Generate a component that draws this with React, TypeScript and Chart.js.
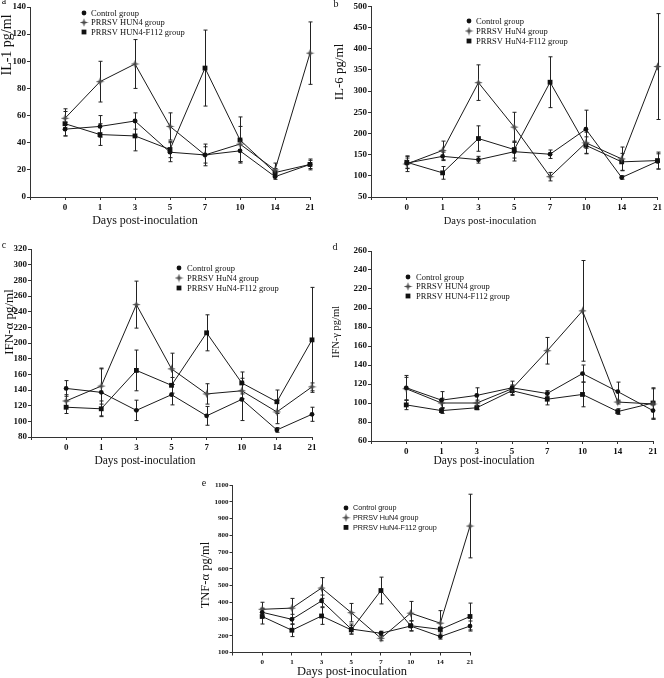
import React, { useEffect, useRef } from 'react';
import { Chart, registerables } from 'chart.js';

Chart.register(...registerables);

// ---------- data ----------
const DAYS = ['0', '1', '3', '5', '7', '10', '14', '21'];

// a: IL-1
const IL1_CONTROL = [50, 52, 56, 33, 31, 34, 15, 24];
const IL1_CONTROL_SD = [5, 8, 6, 7, 8, 8, 2, 3];
const IL1_HUN4 = [58, 85, 98, 52, 31, 39, 20, 106];
const IL1_HUN4_SD = [7, 15, 18, 10, 6, 13, 5, 23];
const IL1_F112 = [54, 46, 45, 35, 95, 42, 18, 24];
const IL1_F112_SD = [9, 8, 11, 6, 28, 17, 3, 4];

// b: IL-6
const IL6_CONTROL = [130, 146, 138, 157, 151, 210, 96, 134];
const IL6_CONTROL_SD = [12, 10, 8, 22, 10, 45, 4, 18];
const IL6_HUN4 = [128, 160, 320, 215, 98, 178, 140, 358];
const IL6_HUN4_SD = [18, 22, 42, 35, 10, 25, 28, 125];
const IL6_F112 = [132, 107, 188, 162, 321, 172, 133, 136];
const IL6_F112_SD = [15, 15, 30, 20, 60, 20, 20, 20];

// c: IFN-alpha
const IFNA_CONTROL = [142, 137, 114, 134, 107, 128, 89, 109];
const IFNA_CONTROL_SD = [10, 30, 13, 13, 12, 27, 3, 9];
const IFNA_HUN4 = [126, 145, 249, 167, 135, 139, 112, 144];
const IFNA_HUN4_SD = [8, 23, 30, 20, 13, 10, 15, 5];
const IFNA_F112 = [118, 116, 165, 146, 213, 149, 125, 204];
const IFNA_F112_SD = [8, 10, 26, 10, 23, 14, 15, 67];

// d: IFN-gamma
const IFNG_CONTROL = [116, 103, 108, 116, 110, 131, 112, 92];
const IFNG_CONTROL_SD = [13, 9, 8, 7, 3, 9, 10, 9];
const IFNG_HUN4 = [115, 100, 100, 115, 155, 197, 101, 99];
const IFNG_HUN4_SD = [12, 5, 3, 4, 14, 53, 2, 16];
const IFNG_F112 = [98, 92, 95, 113, 104, 109, 91, 100];
const IFNG_F112_SD = [5, 3, 2, 5, 6, 13, 3, 16];

// e: TNF-alpha
const TNF_CONTROL = [340, 298, 408, 240, 215, 258, 195, 258];
const TNF_CONTROL_SD = [25, 30, 35, 30, 12, 30, 15, 30];
const TNF_HUN4 = [358, 365, 485, 338, 185, 335, 275, 855];
const TNF_HUN4_SD = [42, 58, 62, 55, 15, 70, 75, 190];
const TNF_F112 = [315, 233, 318, 235, 470, 260, 238, 315];
const TNF_F112_SD = [45, 38, 50, 25, 80, 30, 15, 80];

const LABELS_UPPER = ['Control group', 'PRRSV HUN4 group', 'PRRSV HUN4-F112 group'];
const LABELS_MIXED = ['Control group', 'PRRSV HuN4 group', 'PRRSV HuN4-F112 group'];

const SERIF = '"Liberation Serif", "Times New Roman", serif';
const SANS = '"Liberation Sans", Arial, sans-serif';
const MARKERS = ['circle', 'star', 'square'];

type PanelCfg = {
  key: string;
  canvas: { left: number; top: number; w: number; h: number };
  area: { l: number; t: number; r: number; b: number };
  yMin: number; yMax: number; yStep: number;
  tickSize: number;
  series: { values: number[]; sd: number[] }[];
  labels: string[];
  legend: { x: number; y: number; dy: number; dx: number; font: string };
  letter: { text: string; x: number; y: number };
  yTitle: { text: string; x: number; y: number; size: number };
  xTitle: { text: string; x: number; y: number; size: number };
};

const PANELS: PanelCfg[] = [
  {
    key: 'a',
    canvas: { left: 0, top: 0, w: 332, h: 215 },
    area: { l: 30, t: 7, r: 310, b: 197 },
    yMin: 0, yMax: 140, yStep: 20, tickSize: 9,
    series: [
      { values: IL1_CONTROL, sd: IL1_CONTROL_SD },
      { values: IL1_HUN4, sd: IL1_HUN4_SD },
      { values: IL1_F112, sd: IL1_F112_SD },
    ],
    labels: LABELS_UPPER,
    legend: { x: 84, y: 13, dy: 9.5, dx: 7, font: `8.5px ${SERIF}` },
    letter: { text: 'a', x: 4, y: 1 },
    yTitle: { text: 'IL-1 pg/ml', x: 7, y: 45, size: 14 },
    xTitle: { text: 'Days post-inoculation', x: 145, y: 220, size: 12 },
  },
  {
    key: 'b',
    canvas: { left: 332, top: 0, w: 332, h: 215 },
    area: { l: 371, t: 3, r: 659, b: 197 },
    yMin: 50, yMax: 500, yStep: 50, tickSize: 9,
    series: [
      { values: IL6_CONTROL, sd: IL6_CONTROL_SD },
      { values: IL6_HUN4, sd: IL6_HUN4_SD },
      { values: IL6_F112, sd: IL6_F112_SD },
    ],
    labels: LABELS_MIXED,
    legend: { x: 469, y: 21, dy: 10, dx: 7, font: `8.5px ${SERIF}` },
    letter: { text: 'b', x: 336, y: 4 },
    yTitle: { text: 'IL-6 pg/ml', x: 338, y: 72, size: 13 },
    xTitle: { text: 'Days post-inoculation', x: 490, y: 221, size: 10.5 },
  },
  {
    key: 'c',
    canvas: { left: 0, top: 238, w: 332, h: 220 },
    area: { l: 31, t: 249, r: 312, b: 437 },
    yMin: 80, yMax: 320, yStep: 20, tickSize: 9,
    series: [
      { values: IFNA_CONTROL, sd: IFNA_CONTROL_SD },
      { values: IFNA_HUN4, sd: IFNA_HUN4_SD },
      { values: IFNA_F112, sd: IFNA_F112_SD },
    ],
    labels: LABELS_MIXED,
    legend: { x: 179, y: 268, dy: 10, dx: 8, font: `8.5px ${SERIF}` },
    letter: { text: 'c', x: 4, y: 245 },
    yTitle: { text: 'IFN-α pg/ml', x: 8, y: 322, size: 13 },
    xTitle: { text: 'Days post-inoculation', x: 145, y: 461, size: 11.5 },
  },
  {
    key: 'd',
    canvas: { left: 332, top: 238, w: 332, h: 220 },
    area: { l: 371, t: 251, r: 653, b: 441 },
    yMin: 60, yMax: 260, yStep: 20, tickSize: 9,
    series: [
      { values: IFNG_CONTROL, sd: IFNG_CONTROL_SD },
      { values: IFNG_HUN4, sd: IFNG_HUN4_SD },
      { values: IFNG_F112, sd: IFNG_F112_SD },
    ],
    labels: LABELS_UPPER,
    legend: { x: 408, y: 277, dy: 9.5, dx: 8, font: `8.5px ${SERIF}` },
    letter: { text: 'd', x: 335, y: 247 },
    yTitle: { text: 'IFN-γ pg/ml', x: 336, y: 332, size: 10.5 },
    xTitle: { text: 'Days post-inoculation', x: 484, y: 461, size: 11.5 },
  },
  {
    key: 'e',
    canvas: { left: 180, top: 470, w: 320, h: 200 },
    area: { l: 232.5, t: 485, r: 470, b: 652.5 },
    yMin: 100, yMax: 1100, yStep: 100, tickSize: 7,
    series: [
      { values: TNF_CONTROL, sd: TNF_CONTROL_SD },
      { values: TNF_HUN4, sd: TNF_HUN4_SD },
      { values: TNF_F112, sd: TNF_F112_SD },
    ],
    labels: LABELS_MIXED,
    legend: { x: 346, y: 508, dy: 9.7, dx: 7, font: `7.2px ${SANS}` },
    letter: { text: 'e', x: 204, y: 483 },
    yTitle: { text: 'TNF-α pg/ml', x: 205, y: 575, size: 12.5 },
    xTitle: { text: 'Days post-inoculation', x: 352, y: 671, size: 12.5 },
  },
];

const Y_AXIS_W = 28;
const X_AXIS_H = 14;

function makeStar(): HTMLCanvasElement {
  const c = document.createElement('canvas');
  c.width = 9;
  c.height = 9;
  const g = c.getContext('2d')!;
  g.fillStyle = '#4a4a4a';
  g.beginPath();
  const cx = 4.5, cy = 4.5, R = 4.3, r = 1.5;
  for (let k = 0; k < 8; k++) {
    const ang = -Math.PI / 2 + (k * Math.PI) / 4;
    const rad = k % 2 === 0 ? R : r;
    const px = cx + rad * Math.cos(ang);
    const py = cy + rad * Math.sin(ang);
    if (k === 0) g.moveTo(px, py);
    else g.lineTo(px, py);
  }
  g.closePath();
  g.fill();
  return c;
}

function drawMarker(ctx: CanvasRenderingContext2D, kind: string, x: number, y: number, star: HTMLCanvasElement) {
  ctx.fillStyle = '#111';
  if (kind === 'circle') {
    ctx.beginPath();
    ctx.arc(x, y, 2.4, 0, Math.PI * 2);
    ctx.fill();
  } else if (kind === 'square') {
    ctx.fillRect(x - 2.4, y - 2.4, 4.8, 4.8);
  } else {
    ctx.drawImage(star, x - star.width / 2, y - star.height / 2);
  }
}

const errorBarPlugin = {
  id: 'errorBars',
  beforeDatasetsDraw(chart: any) {
    const { ctx } = chart;
    const x = chart.scales.x;
    const y = chart.scales.y;
    ctx.save();
    ctx.strokeStyle = '#222';
    ctx.lineWidth = 1;
    chart.data.datasets.forEach((ds: any) => {
      if (!ds.errors) return;
      ds.data.forEach((pt: any, i: number) => {
        const e = ds.errors[i];
        if (!e) return;
        const px = Math.round(x.getPixelForValue(pt.x)) + 0.5;
        const yt = y.getPixelForValue(pt.y + e);
        const yb = y.getPixelForValue(pt.y - e);
        ctx.beginPath();
        ctx.moveTo(px, yt);
        ctx.lineTo(px, yb);
        ctx.moveTo(px - 2, yt);
        ctx.lineTo(px + 2, yt);
        ctx.moveTo(px - 2, yb);
        ctx.lineTo(px + 2, yb);
        ctx.stroke();
      });
    });
    ctx.restore();
  },
};

function makeLegendPlugin(p: PanelCfg, star: HTMLCanvasElement) {
  return {
    id: 'panelLegend_' + p.key,
    afterDraw(chart: any) {
      const ctx = chart.ctx as CanvasRenderingContext2D;
      const ox = p.canvas.left;
      const oy = p.canvas.top;
      ctx.save();
      ctx.font = p.legend.font;
      ctx.textBaseline = 'middle';
      ctx.textAlign = 'left';
      p.labels.forEach((label, k) => {
        const yy = p.legend.y + k * p.legend.dy - oy;
        const xx = p.legend.x - ox;
        drawMarker(ctx, MARKERS[k], xx, yy, star);
        ctx.fillStyle = '#111';
        ctx.fillText(label, xx + p.legend.dx, yy + 0.5);
      });
      ctx.restore();
    },
  };
}

function Panel({ p }: { p: PanelCfg }) {
  const ref = useRef<HTMLCanvasElement>(null);
  useEffect(() => {
    if (!ref.current) return;
    const star = makeStar();
    const datasets = p.series.map((s, k) => {
      const m = MARKERS[k];
      return {
        label: p.labels[k],
        data: s.values.map((v, i) => ({ x: i, y: v })),
        errors: s.sd,
        borderColor: '#1a1a1a',
        borderWidth: 1,
        pointStyle: m === 'star' ? star : m === 'square' ? 'rect' : 'circle',
        pointRadius: m === 'square' ? 3.4 : 2.4,
        pointBackgroundColor: '#111',
        pointBorderColor: '#111',
        pointBorderWidth: 0,
        tension: 0,
        fill: false,
        clip: false,
      } as any;
    });
    const pad = {
      left: p.area.l - p.canvas.left - Y_AXIS_W,
      top: p.area.t - p.canvas.top,
      right: p.canvas.left + p.canvas.w - p.area.r,
      bottom: p.canvas.top + p.canvas.h - p.area.b - X_AXIS_H,
    };
    const tickFont = { family: SERIF, size: p.tickSize, weight: 'bold' as const };
    const chart = new Chart(ref.current, {
      type: 'line',
      data: { datasets },
      options: {
        animation: false,
        responsive: false,
        maintainAspectRatio: false,
        devicePixelRatio: 1,
        layout: { autoPadding: false, padding: pad },
        plugins: { legend: { display: false }, tooltip: { enabled: false }, title: { display: false } },
        scales: {
          x: {
            type: 'linear',
            min: -1,
            max: 7,
            afterFit: (s: any) => { s.height = X_AXIS_H; },
            grid: { display: true, drawOnChartArea: false, drawTicks: true, tickLength: 3, color: '#333' },
            border: { display: true, color: '#333', width: 1 },
            ticks: {
              stepSize: 1,
              autoSkip: false,
              maxRotation: 0,
              padding: 2,
              color: '#111',
              font: tickFont,
              callback: (v: any) => (v >= 0 && v < DAYS.length ? DAYS[v] : ''),
            },
          },
          y: {
            type: 'linear',
            min: p.yMin,
            max: p.yMax,
            afterFit: (s: any) => { s.width = Y_AXIS_W; },
            grid: { display: true, drawOnChartArea: false, drawTicks: true, tickLength: 3, color: '#333' },
            border: { display: true, color: '#333', width: 1 },
            ticks: {
              stepSize: p.yStep,
              padding: 1,
              color: '#111',
              font: tickFont,
              callback: (v: any) => String(v),
            },
          },
        },
      } as any,
      plugins: [errorBarPlugin, makeLegendPlugin(p, star)],
    });
    return () => chart.destroy();
  }, []);

  const abs = (x: number, y: number, extra: any = {}) => ({
    position: 'absolute' as const,
    left: x,
    top: y,
    transform: 'translate(-50%, -50%)',
    whiteSpace: 'nowrap' as const,
    fontFamily: SERIF,
    color: '#111',
    lineHeight: 1,
    ...extra,
  });

  return (
    <>
      <canvas
        ref={ref}
        width={p.canvas.w}
        height={p.canvas.h}
        style={{ position: 'absolute', left: p.canvas.left, top: p.canvas.top, width: p.canvas.w, height: p.canvas.h }}
      />
      <div style={abs(p.letter.x, p.letter.y, { fontSize: 10 })}>{p.letter.text}</div>
      <div style={abs(p.yTitle.x, p.yTitle.y, { fontSize: p.yTitle.size, transform: 'translate(-50%, -50%) rotate(-90deg)' })}>
        {p.yTitle.text}
      </div>
      <div style={abs(p.xTitle.x, p.xTitle.y, { fontSize: p.xTitle.size })}>{p.xTitle.text}</div>
    </>
  );
}

export default function App() {
  return (
    <div style={{ position: 'absolute', left: 0, top: 0, width: 664, height: 678, background: '#fff', overflow: 'hidden' }}>
      {PANELS.map((p) => (
        <Panel key={p.key} p={p} />
      ))}
    </div>
  );
}
